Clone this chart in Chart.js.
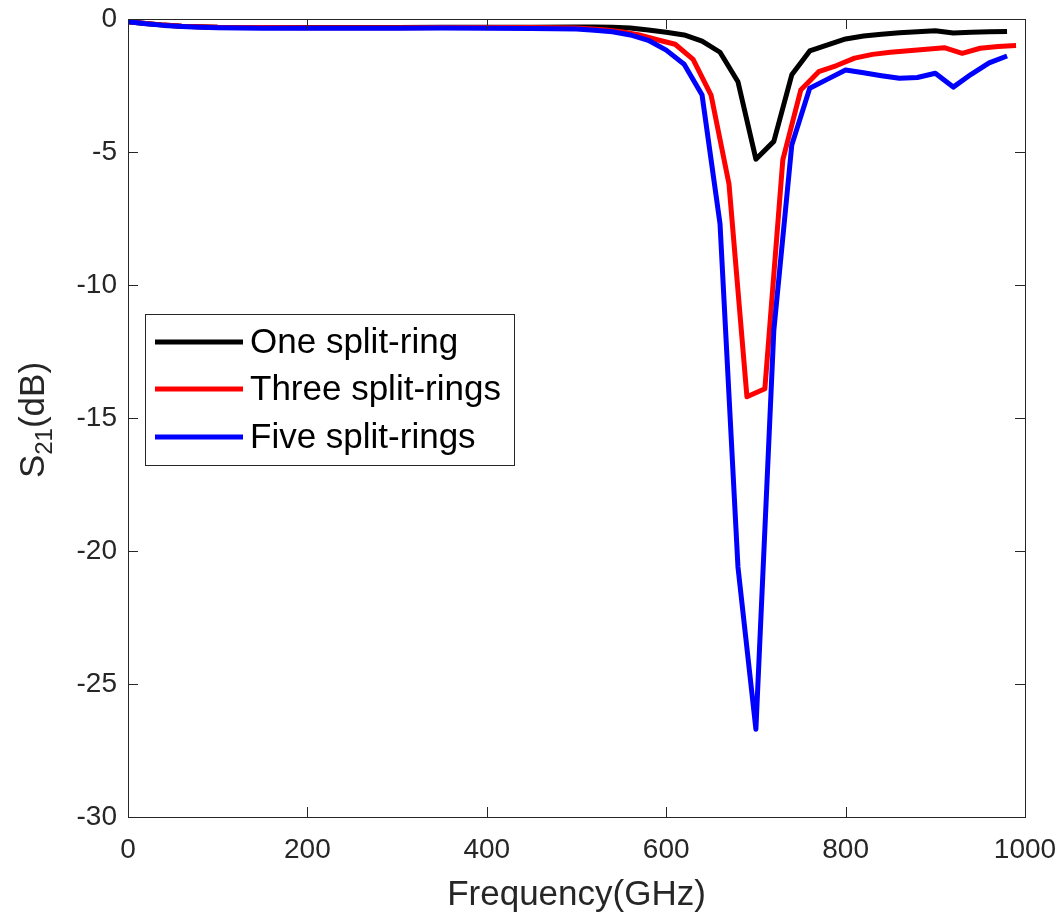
<!DOCTYPE html>
<html>
<head>
<meta charset="utf-8">
<script src="https://cdn.jsdelivr.net/npm/chart.js@4.4.1/dist/chart.umd.min.js"></script>
<style>
  html, body { margin: 0; padding: 0; background: #fff; }
  #wrap { width: 1064px; height: 918px; }
</style>
</head>
<body>
<div id="wrap"><canvas id="c" width="1064" height="918"></canvas></div>
<script>
// Values
const freqOne = [0, 20, 40, 60, 80, 100, 150, 200, 250, 300, 350, 400, 450, 500, 520, 540, 560, 580, 600, 620, 640, 660, 680, 700, 720, 740, 760, 780, 800, 820, 840, 860, 880, 900, 920, 940, 960, 980];
const s21One = [-0.1, -0.17, -0.23, -0.27, -0.29, -0.31, -0.32, -0.32, -0.32, -0.32, -0.31, -0.31, -0.31, -0.3, -0.3, -0.31, -0.34, -0.41, -0.5, -0.6, -0.83, -1.25, -2.36, -5.27, -4.6, -2.1, -1.2, -0.97, -0.75, -0.64, -0.57, -0.52, -0.48, -0.44, -0.53, -0.5, -0.48, -0.47];

const freqThree = [0, 20, 40, 60, 80, 100, 150, 200, 250, 300, 350, 400, 450, 500, 530, 550, 570, 590, 610, 630, 650, 670, 690, 710, 730, 750, 770, 790, 810, 830, 850, 870, 890, 910, 930, 950, 970, 990];
const s21Three = [-0.1, -0.17, -0.23, -0.27, -0.29, -0.31, -0.32, -0.33, -0.33, -0.33, -0.32, -0.32, -0.32, -0.34, -0.4, -0.48, -0.6, -0.78, -0.95, -1.52, -2.86, -6.2, -14.2, -13.9, -5.3, -2.67, -1.98, -1.75, -1.47, -1.33, -1.25, -1.19, -1.14, -1.08, -1.29, -1.1, -1.03, -1.0];

const freqFive = [0, 20, 40, 60, 80, 100, 150, 200, 250, 300, 350, 400, 450, 500, 520, 540, 560, 580, 600, 620, 640, 660, 680, 700, 720, 740, 760, 780, 800, 820, 840, 860, 880, 900, 920, 940, 960, 980];
const s21Five = [-0.1, -0.18, -0.24, -0.28, -0.31, -0.33, -0.35, -0.35, -0.35, -0.35, -0.34, -0.35, -0.36, -0.38, -0.42, -0.48, -0.6, -0.8, -1.17, -1.7, -2.86, -7.7, -20.6, -26.7, -11.7, -4.74, -2.6, -2.26, -1.92, -2.02, -2.13, -2.23, -2.2, -2.04, -2.56, -2.08, -1.65, -1.39];

const seriesNames = ['One split-ring', 'Three split-rings', 'Five split-rings'];
const seriesColors = ['#000000', '#ff0000', '#0000ff'];

const xTicks = [0, 200, 400, 600, 800, 1000];
const yTicks = [0, -5, -10, -15, -20, -25, -30];

const axisColor = '#262626';
const fontFamily = '"Liberation Sans", Arial, Helvetica, sans-serif';

function toPoints(xs, ys) {
    return xs.map((x, i) => ({ x: x, y: ys[i] }));
}

// MATLAB-like box with inner ticks, titles and legend
const matlabAxes = {
    id: 'matlabAxes',
    afterDraw(chart) {
        const ctx = chart.ctx;
        const area = chart.chartArea;
        const xs = chart.scales.x;
        const ys = chart.scales.y;
        const tickLen = 10;

        ctx.save();
        ctx.strokeStyle = axisColor;
        ctx.lineWidth = 1;
        ctx.beginPath();
        xTicks.forEach(v => {
            const px = Math.round(xs.getPixelForValue(v)) + 0.5;
            ctx.moveTo(px, area.bottom);
            ctx.lineTo(px, area.bottom - tickLen);
            ctx.moveTo(px, area.top);
            ctx.lineTo(px, area.top + tickLen);
        });
        yTicks.forEach(v => {
            const py = Math.round(ys.getPixelForValue(v)) + 0.5;
            ctx.moveTo(area.left, py);
            ctx.lineTo(area.left + tickLen, py);
            ctx.moveTo(area.right, py);
            ctx.lineTo(area.right - tickLen, py);
        });
        ctx.stroke();
        ctx.strokeRect(Math.round(area.left) + 0.5, Math.round(area.top) + 0.5,
            Math.round(area.right - area.left), Math.round(area.bottom - area.top));

        // x title
        ctx.fillStyle = axisColor;
        ctx.font = '35px ' + fontFamily;
        ctx.textAlign = 'center';
        ctx.textBaseline = 'middle';
        ctx.fillText('Frequency(GHz)', (area.left + area.right) / 2, 895);

        // y title with subscript, rotated
        ctx.save();
        ctx.translate(44, 420);
        ctx.rotate(-Math.PI / 2);
        ctx.textBaseline = 'alphabetic';
        ctx.textAlign = 'left';
        const bigFont = '35px ' + fontFamily;
        const subFont = '24px ' + fontFamily;
        ctx.font = bigFont;
        const wS = ctx.measureText('S').width;
        const wTail = ctx.measureText('(dB)').width;
        ctx.font = subFont;
        const wSub = ctx.measureText('21').width;
        let x0 = -(wS + wSub + wTail) / 2;
        ctx.font = bigFont;
        ctx.fillText('S', x0, 0);
        ctx.font = subFont;
        ctx.fillText('21', x0 + wS, 8);
        ctx.font = bigFont;
        ctx.fillText('(dB)', x0 + wS + wSub, 0);
        ctx.restore();

        // legend
        const lx = 145, ly = 314, lw = 369, lh = 151;
        ctx.fillStyle = '#ffffff';
        ctx.fillRect(lx, ly, lw, lh);
        ctx.strokeStyle = axisColor;
        ctx.lineWidth = 1;
        ctx.strokeRect(lx + 0.5, ly + 0.5, lw, lh);
        const rows = [342, 389, 437];
        ctx.font = '35px ' + fontFamily;
        ctx.textAlign = 'left';
        ctx.textBaseline = 'middle';
        seriesNames.forEach((name, i) => {
            ctx.strokeStyle = seriesColors[i];
            ctx.lineWidth = 5;
            ctx.beginPath();
            ctx.moveTo(155, rows[i]);
            ctx.lineTo(243, rows[i]);
            ctx.stroke();
            ctx.fillStyle = '#000000';
            ctx.fillText(name, 250, rows[i] + 1);
        });
        ctx.restore();
    }
};

const datasets = [
    { data: toPoints(freqOne, s21One), order: 2 },
    { data: toPoints(freqThree, s21Three), order: 1 },
    { data: toPoints(freqFive, s21Five), order: 0 }
].map((d, i) => ({
    label: seriesNames[i],
    data: d.data,
    order: d.order,
    borderColor: seriesColors[i],
    backgroundColor: seriesColors[i],
    borderWidth: 5,
    pointRadius: 0,
    tension: 0,
    fill: false,
    borderJoinStyle: 'round',
    borderCapStyle: 'butt'
}));

new Chart(document.getElementById('c').getContext('2d'), {
    type: 'line',
    data: { datasets: datasets },
    options: {
        responsive: false,
        animation: false,
        events: [],
        layout: { padding: { top: 19, right: 39, left: 0, bottom: 0 } },
        plugins: {
            legend: { display: false },
            tooltip: { enabled: false },
            title: { display: false }
        },
        scales: {
            x: {
                type: 'linear',
                min: 0,
                max: 1000,
                afterFit: s => {
                    s.height = 101;
                    s.paddingLeft = 0;
                    s.paddingRight = 0;
                },
                afterBuildTicks: s => { s.ticks = xTicks.map(v => ({ value: v })); },
                grid: { display: false, drawTicks: false },
                border: { display: false },
                ticks: {
                    color: axisColor,
                    padding: 16,
                    maxRotation: 0,
                    callback: v => String(v),
                    font: { family: fontFamily, size: 28 }
                }
            },
            y: {
                type: 'linear',
                min: -30,
                max: 0,
                afterFit: s => {
                    s.width = 128;
                    s.paddingTop = 0;
                    s.paddingBottom = 0;
                },
                afterBuildTicks: s => { s.ticks = yTicks.map(v => ({ value: v })); },
                grid: { display: false, drawTicks: false },
                border: { display: false },
                ticks: {
                    color: axisColor,
                    padding: 11,
                    callback: v => String(v),
                    font: { family: fontFamily, size: 28 }
                }
            }
        }
    },
    plugins: [matlabAxes]
});
</script>
</body>
</html>
